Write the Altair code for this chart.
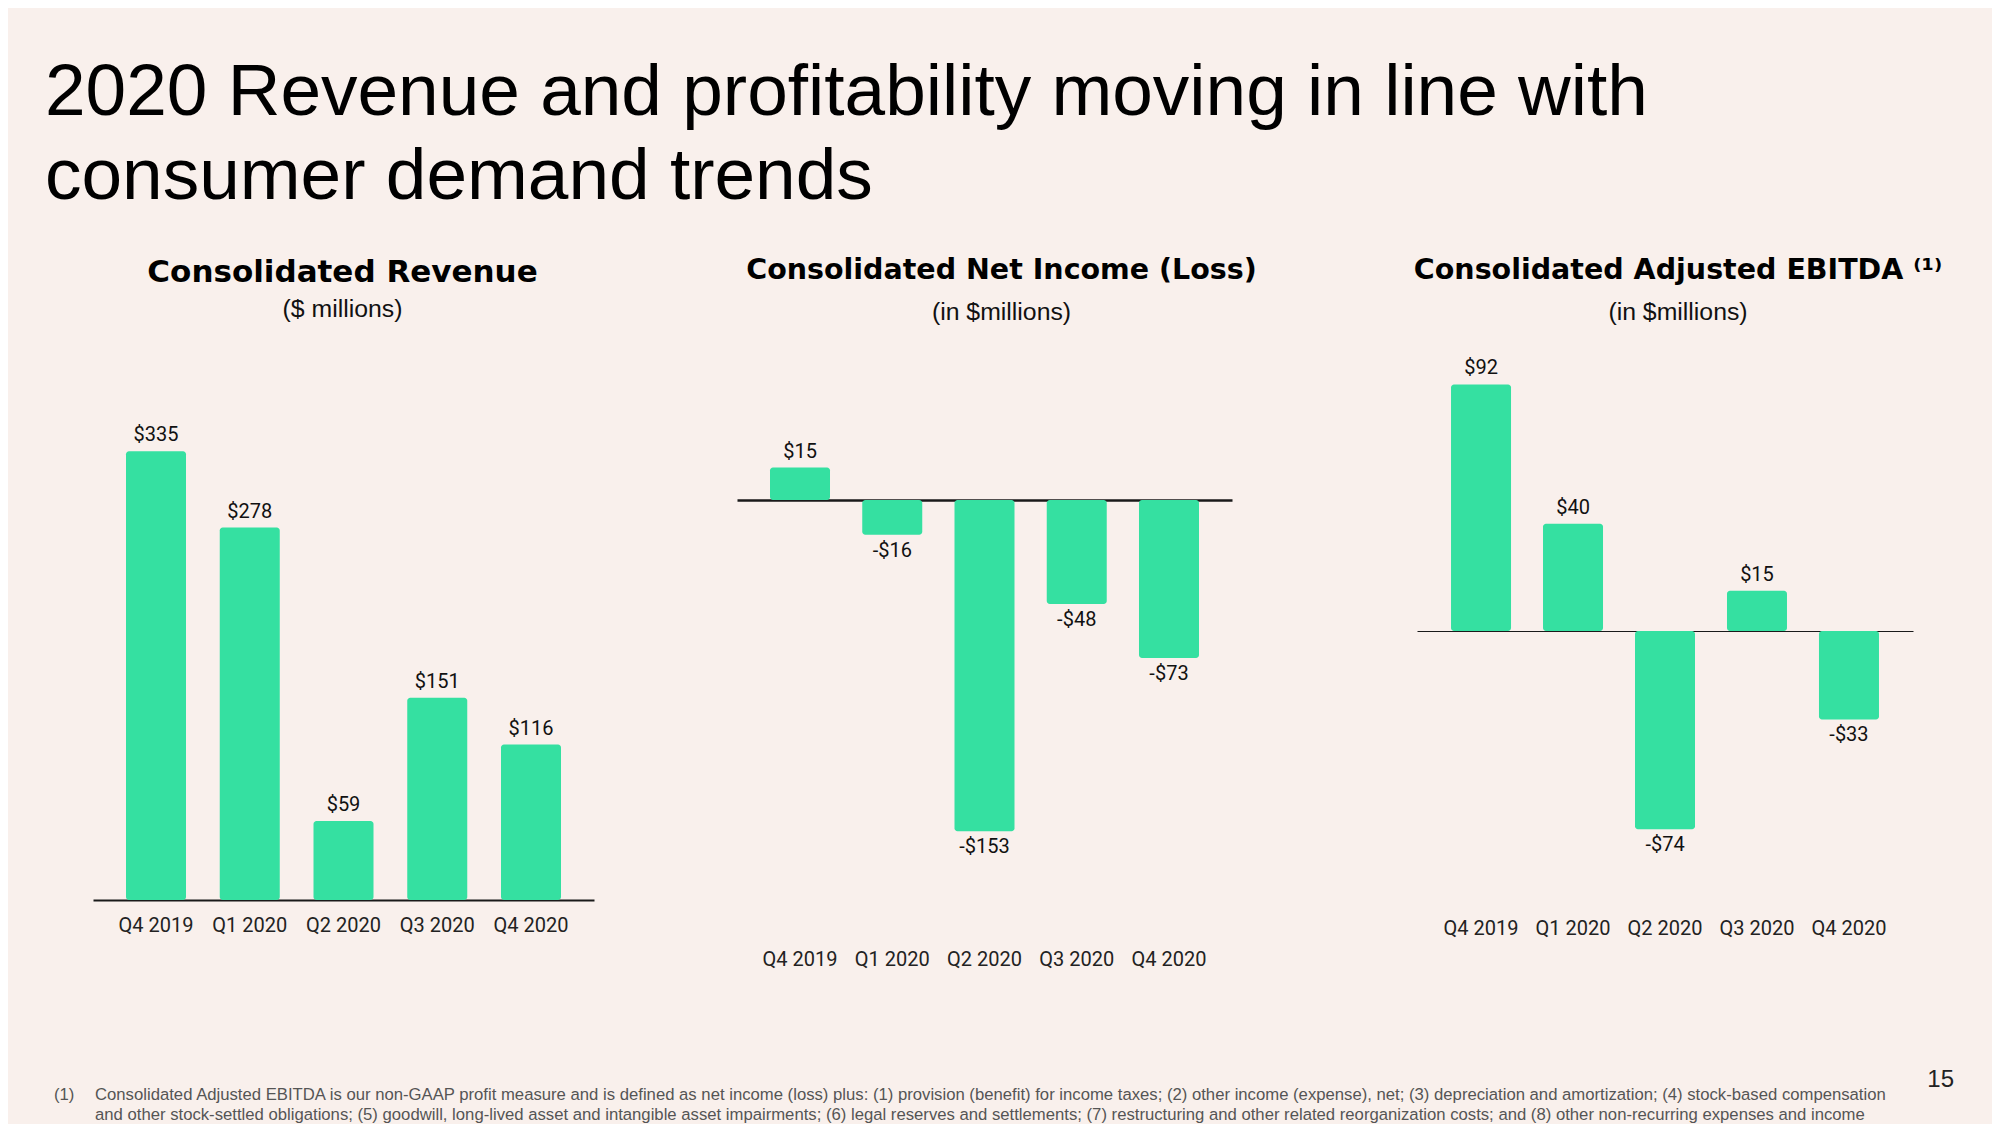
import altair as alt
import pandas as pd

quarters = ["Q4 2019", "Q1 2020", "Q2 2020", "Q3 2020", "Q4 2020"]
revenue = [335, 278, 59, 151, 116]
net_income = [15, -16, -153, -48, -73]
adj_ebitda = [92, 40, -74, 15, -33]

main_title = ["2020 Revenue and profitability moving in line with", "consumer demand trends"]
panel_titles = ["Consolidated Revenue", "Consolidated Net Income (Loss)", "Consolidated Adjusted EBITDA \u207d\u00b9\u207e"]
panel_subtitles = ["($ millions)", "(in $millions)", "(in $millions)"]
footnote_marker = ["(1)", ""]
footnote_lines = [
    "Consolidated Adjusted EBITDA is our non-GAAP profit measure and is defined as net income (loss) plus: (1) provision (benefit) for income taxes; (2) other income (expense), net; (3) depreciation and amortization; (4) stock-based compensation",
    "and other stock-settled obligations; (5) goodwill, long-lived asset and intangible asset impairments; (6) legal reserves and settlements; (7) restructuring and other related reorganization costs; and (8) other non-recurring expenses and income",
]
page_number = "15"

BG = "#F9F0EC"
GREEN = "#35E0A1"
SANS = "Liberation Sans"
BOLD = "DejaVu Sans"
NUM = "Roboto"


def fmt(v):
    return f"${v}" if v >= 0 else f"-${abs(v)}"


def panel(values, title, subtitle, width, xrange, pad_outer, height, domain_max,
          label_pad, line_width, title_dx, title_size, sub_pad, offset):
    df = pd.DataFrame({"quarter": quarters, "value": values,
                       "label": [fmt(v) for v in values]})
    base = alt.Chart(df)
    x = alt.X("quarter:N", sort=quarters,
              scale=alt.Scale(range=xrange, paddingInner=0, paddingOuter=pad_outer),
              axis=alt.Axis(title=None, labelAngle=0, ticks=False, tickSize=0,
                            domain=True, domainColor="#1a1a1a", domainWidth=line_width,
                            labelPadding=label_pad, labelFont=NUM, labelFontSize=20,
                            labelColor="#222", grid=False))
    y = alt.Y("value:Q", scale=alt.Scale(domain=[0, domain_max], nice=False, zero=False),
              axis=None)
    bars = base.mark_bar(size=60, color=GREEN, cornerRadiusEnd=3).encode(
        x=x, y=y, y2=alt.datum(0))
    pos = base.transform_filter("datum.value >= 0").mark_text(
        dy=-16, font=NUM, fontSize=20, color="#111", baseline="middle").encode(
        x=x, y=y, text="label:N")
    neg = base.transform_filter("datum.value < 0").mark_text(
        dy=16, font=NUM, fontSize=20, color="#111", baseline="middle").encode(
        x=x, y=y, text="label:N")
    return alt.layer(bars, pos, neg).properties(
        width=width, height=height,
        title=alt.TitleParams(text=title, subtitle=subtitle, font=BOLD, fontSize=title_size,
                              fontWeight="bold", color="#000", subtitleFont=SANS,
                              subtitleFontSize=24.8, subtitleColor="#111",
                              subtitlePadding=sub_pad, offset=offset, anchor="middle",
                              dx=title_dx))


p1 = panel(revenue, panel_titles[0], panel_subtitles[0], 549, [48, 549], 0.172, 559, 417.2,
           15, 2, 23, 31, 7.6, 18.4)
p2 = panel(net_income, panel_titles[1], panel_subtitles[1], 495, [0, 495], 0.183, 159, 73.44,
           449.5, 2.5, 17, 28.5, 15.5, 16)
p3 = panel(adj_ebitda, panel_titles[2], panel_subtitles[2], 538, [42, 538], 0.196, 290, 108.2,
           287.5, 1.2, 34, 28.5, 15.5, 16)

foot_df = pd.DataFrame({"line": [0, 1], "text": footnote_lines, "marker": footnote_marker})
foot_base = alt.Chart(foot_df)
fy = alt.Y("line:O", axis=None, scale=alt.Scale(type="point", padding=0))
foot = alt.layer(
    foot_base.mark_text(align="left", baseline="middle", font=SANS, fontSize=16.7,
                        color="#555").encode(y=fy, text="marker:N", x=alt.value(9)),
    foot_base.mark_text(align="left", baseline="middle", font=SANS, fontSize=16.7,
                        color="#555").encode(y=fy, text="text:N", x=alt.value(50)),
).properties(width=1909, height=20,
             title=alt.TitleParams(text=page_number, anchor="end", font=SANS, fontSize=24,
                                   fontWeight="normal", color="#222", offset=-5))

chart = alt.vconcat(
    alt.hconcat(p1, p2, p3, spacing=143, bounds="flush"),
    foot,
    spacing=98,
).properties(
    title=alt.TitleParams(text=main_title, anchor="start", font=SANS, fontSize=73,
                          fontWeight="normal", color="#000", lineHeight=84, offset=42.5),
    background=BG,
    padding={"left": 37, "top": 48, "right": 38, "bottom": 0},
).configure_view(stroke=None)

chart.save("out.html", embed_options={"renderer": "svg", "actions": False})
